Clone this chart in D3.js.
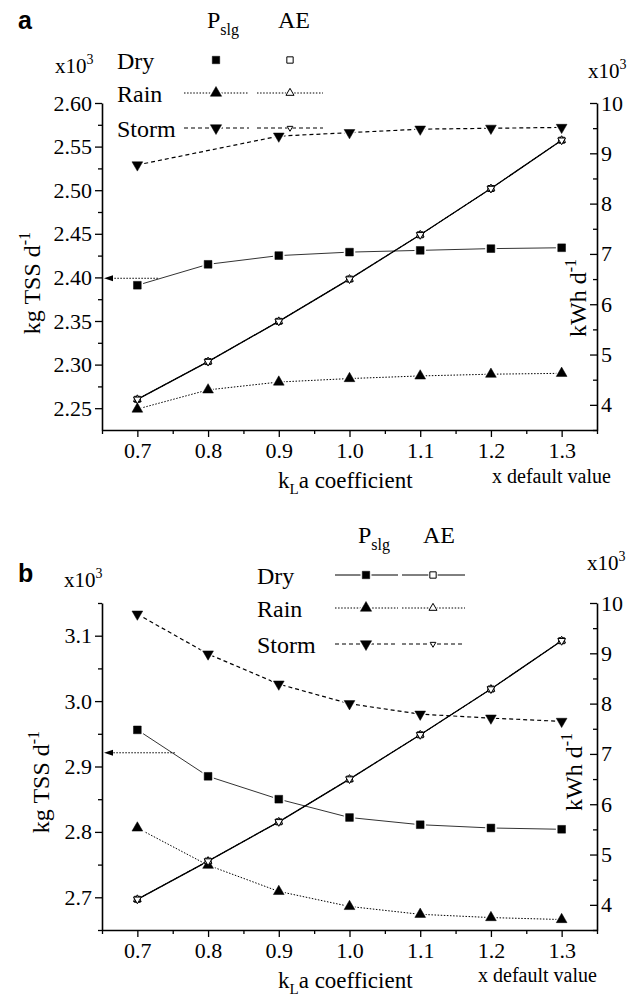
<!DOCTYPE html>
<html>
<head>
<meta charset="utf-8">
<script src="https://cdn.jsdelivr.net/npm/d3@7"></script>
<style>
  body { margin: 0; background: #fff; }
  svg { display: block; }
  text { font-family: "Liberation Serif", "Times New Roman", serif; fill: #000; }
</style>
</head>
<body>
<div id="chart"></div>
<script>
// kLa multiplier (x default value)
const kla = [0.7, 0.8, 0.9, 1.0, 1.1, 1.2, 1.3];

// panel a, sludge production (x10^3 kg TSS/d)
const pslgDryA = [2.391, 2.415, 2.425, 2.429, 2.431, 2.433, 2.434];
const pslgRainA = [2.249, 2.271, 2.280, 2.284, 2.287, 2.289, 2.290];
const pslgStormA = [2.529, null, 2.562, 2.566, 2.570, 2.571, 2.572];
// panel a, aeration energy (x10^3 kWh/d)
const aeDryA = [4.11, 4.86, 5.66, 6.50, 7.38, 8.30, 9.26];
const aeRainA = [4.11, 4.86, 5.66, 6.50, 7.38, 8.30, 9.26];
const aeStormA = [4.11, 4.86, 5.66, 6.50, 7.38, 8.30, 9.26];

// panel b
const pslgDryB = [2.956, 2.885, 2.850, 2.822, 2.811, 2.806, 2.804];
const pslgRainB = [2.806, 2.749, 2.709, 2.686, 2.674, 2.669, 2.666];
const pslgStormB = [3.133, 3.072, 3.026, 2.996, 2.980, 2.974, 2.969];
const aeDryB = [4.11, 4.87, 5.65, 6.50, 7.38, 8.29, 9.25];
const aeRainB = [4.11, 4.87, 5.65, 6.50, 7.38, 8.29, 9.25];
const aeStormB = [4.11, 4.87, 5.65, 6.50, 7.38, 8.29, 9.25];

// tick values
const xTicks = [0.7, 0.8, 0.9, 1.0, 1.1, 1.2, 1.3];
const xMinor = [0.65, 0.75, 0.85, 0.95, 1.05, 1.15, 1.25, 1.35];
const leftTicksA = [2.25, 2.30, 2.35, 2.40, 2.45, 2.50, 2.55, 2.60];
const leftMinorA = [2.275, 2.325, 2.375, 2.425, 2.475, 2.525, 2.575];
const leftTicksB = [2.7, 2.8, 2.9, 3.0, 3.1];
const leftMinorB = [2.65, 2.75, 2.85, 2.95, 3.05, 3.15];
const rightTicks = [4, 5, 6, 7, 8, 9, 10];
const rightMinor = [3.5, 4.5, 5.5, 6.5, 7.5, 8.5, 9.5];

// legend rows
const conditions = ["Dry", "Rain", "Storm"];

const width = 636;
const height = 999;

const svg = d3.select("#chart")
    .append("svg")
    .attr("width", width)
    .attr("height", height);

svg.append("rect").attr("width", width).attr("height", height).attr("fill", "#fff");

const styles = {
    Dry: { shape: "square", dash: null, w: 1, lineColor: "#333" },
    Rain: { shape: "up", dash: "1.5,1.6", w: 1, lineColor: "#000" },
    Storm: { shape: "down", dash: "4,3", w: 1.2, lineColor: "#000" }
};

function markerPath(shape, size) {
    const type = shape === "square" ? d3.symbolSquare : d3.symbolTriangle;
    return d3.symbol().type(type).size(size)();
}

function drawMarker(g, shape, filled, size, cx, cy, halo) {
    const rot = shape === "down" ? " rotate(180)" : "";
    const path = markerPath(shape, size);
    if (halo) {
        g.append("path")
            .attr("d", markerPath(shape, size * 2.2))
            .attr("transform", `translate(${cx},${cy})${rot}`)
            .attr("fill", "#fff");
    }
    g.append("path")
        .attr("d", path)
        .attr("transform", `translate(${cx},${cy})${rot}`)
        .attr("fill", filled ? "#000" : "#fff")
        .attr("stroke", "#000")
        .attr("stroke-width", filled ? 0.5 : 1);
}

function styleAxis(sel, fontSize) {
    sel.attr("font-size", null).attr("font-family", null);
    sel.selectAll("text")
        .style("font-family", "'Liberation Serif', 'Times New Roman', serif")
        .style("font-size", fontSize + "px");
    sel.selectAll("line").attr("stroke", "#000").attr("stroke-width", 1.3);
    sel.select(".domain").attr("stroke", "#000").attr("stroke-width", 1.6);
}

function drawPanel(p) {
    const g = svg.append("g").attr("transform", `translate(0,${p.dy})`);

    const x = d3.scaleLinear().domain([0.65, 1.35]).range([102, 597]);
    const yL = d3.scaleLinear().domain(p.leftDomain).range([430, 103]);
    const yR = d3.scaleLinear().domain([3.5, 10]).range([430, 103]);

    // axes
    g.append("g").attr("transform", "translate(0,430)")
        .call(d3.axisBottom(x).tickValues(xMinor).tickSize(4).tickFormat(""))
        .call(s => s.select(".domain").remove())
        .call(s => styleAxis(s, 22));
    g.append("g").attr("transform", "translate(0,430)")
        .call(d3.axisBottom(x).tickValues(xTicks).tickSize(7).tickSizeOuter(0).tickPadding(5).tickFormat(d3.format(".1f")))
        .call(s => styleAxis(s, 22));

    g.append("g").attr("transform", "translate(102,0)")
        .call(d3.axisLeft(yL).tickValues(p.leftMinor).tickSize(4).tickFormat(""))
        .call(s => s.select(".domain").remove())
        .call(s => styleAxis(s, 22));
    g.append("g").attr("transform", "translate(102,0)")
        .call(d3.axisLeft(yL).tickValues(p.leftTicks).tickSize(7).tickSizeOuter(0).tickPadding(3).tickFormat(d3.format(p.leftFormat)))
        .call(s => styleAxis(s, 22));

    g.append("g").attr("transform", "translate(597,0)")
        .call(d3.axisRight(yR).tickValues(rightMinor).tickSize(-4).tickFormat(""))
        .call(s => s.select(".domain").remove())
        .call(s => styleAxis(s, 22));
    g.append("g").attr("transform", "translate(597,0)")
        .call(d3.axisRight(yR).tickValues(rightTicks).tickSize(-7).tickSizeOuter(0).tickPadding(4).tickFormat(d3.format("d")))
        .call(s => styleAxis(s, 22));

    // series lines
    const series = [];
    conditions.forEach((c, i) => {
        series.push({ cond: c, vals: p.pslg[i], y: yL, filled: true });
    });
    conditions.forEach((c, i) => {
        series.push({ cond: c, vals: p.ae[i], y: yR, filled: false });
    });

    series.forEach(s => {
        const st = styles[s.cond];
        const pts = kla.map((k, i) => ({ k: k, v: s.vals[i] })).filter(d => d.v != null);
        const line = d3.line().x(d => x(d.k)).y(d => s.y(d.v));
        g.append("path")
            .datum(pts)
            .attr("d", line)
            .attr("fill", "none")
            .attr("stroke", s.filled ? st.lineColor : "#000")
            .attr("stroke-width", s.filled ? st.w : (s.cond === "Dry" ? 1.3 : 1))
            .attr("stroke-dasharray", st.dash);
        s.pts = pts;
    });

    // markers (pslg get a white halo so the line stops short of them)
    series.forEach(s => {
        const st = styles[s.cond];
        const size = s.filled ? (st.shape === "square" ? 60 : 50) : (st.shape === "square" ? 36 : 26);
        s.pts.forEach(d => {
            drawMarker(g, st.shape, s.filled, size, x(d.k), s.y(d.v), s.filled);
        });
    });

    // annotation arrow pointing at the left axis
    const ax0 = x(p.arrow.from), ax1 = x(0.65), ay = yL(p.arrow.y);
    g.append("line")
        .attr("x1", ax0).attr("x2", ax1 + 6)
        .attr("y1", ay).attr("y2", ay)
        .attr("stroke", "#000").attr("stroke-width", 1)
        .attr("stroke-dasharray", "1.5,1.5");
    g.append("path")
        .attr("d", d3.line()([[ax1 + 2, ay], [ax1 + 11, ay - 3], [ax1 + 11, ay + 3]]) + "Z")
        .attr("fill", "#000");

    // panel letter
    g.append("text")
        .attr("x", 18).attr("y", p.letterY)
        .style("font-family", "'Liberation Sans', Arial, sans-serif")
        .style("font-weight", "bold")
        .style("font-size", "25px")
        .text(p.letter);

    // x10^3 labels
    [p.expLeft, p.expRight].forEach(pos => {
        const t = g.append("text").attr("x", pos[0]).attr("y", pos[1]).style("font-size", "21px");
        t.append("tspan").text("x10");
        t.append("tspan").attr("dy", -9).style("font-size", "14px").text("3");
    });

    // axis titles
    const tl = g.append("text")
        .attr("transform", `translate(${p.leftTitle[0]},${p.leftTitle[1]}) rotate(-90)`)
        .attr("text-anchor", "middle")
        .style("font-size", "24px");
    tl.append("tspan").text("kg TSS d");
    tl.append("tspan").attr("dy", -10).style("font-size", "16px").text("-1");

    const tr = g.append("text")
        .attr("transform", `translate(${p.rightTitle[0]},${p.rightTitle[1]}) rotate(-90)`)
        .attr("text-anchor", "middle")
        .style("font-size", "24px");
    tr.append("tspan").text("kWh d");
    tr.append("tspan").attr("dy", -10).style("font-size", "16px").text("-1");

    const tx = g.append("text")
        .attr("x", 278).attr("y", 488)
        .style("font-size", "23px");
    tx.append("tspan").text("k");
    tx.append("tspan").attr("dy", 6).style("font-size", "15px").text("L");
    tx.append("tspan").attr("dy", -6).text("a coefficient");

    g.append("text")
        .attr("x", p.defaultX).attr("y", p.defaultY)
        .style("font-size", "20px")
        .text("x default value");

    // legend
    const lg = p.legend;
    const hd = g.append("text").attr("x", lg.pX).attr("y", lg.headY).style("font-size", "24px");
    hd.append("tspan").text("P");
    hd.append("tspan").attr("dy", 7).style("font-size", "16px").text("slg");
    g.append("text").attr("x", lg.aeX).attr("y", lg.headY).style("font-size", "24px").text("AE");

    conditions.forEach((c, i) => {
        const st = styles[c];
        const rowY = lg.rowY[i];
        g.append("text").attr("x", lg.textX).attr("y", rowY + 9).style("font-size", "24px").text(c);
        if (lg.lines[i]) {
            [lg.pslgLine, lg.aeLine].forEach(seg => {
                g.append("line")
                    .attr("x1", seg[0]).attr("x2", seg[1])
                    .attr("y1", rowY).attr("y2", rowY)
                    .attr("stroke", "#000").attr("stroke-width", st.w)
                    .attr("stroke-dasharray", st.dash);
            });
        }
        const bigSize = 55;
        const smallSize = st.shape === "square" ? 40 : (c === "Rain" ? 28 : 14);
        drawMarker(g, st.shape, true, bigSize, lg.pslgMark, rowY, lg.lines[i]);
        drawMarker(g, st.shape, false, smallSize, lg.aeMark, rowY, lg.lines[i]);
    });
}

drawPanel({
    dy: 0,
    letter: "a",
    letterY: 29,
    leftDomain: [2.225, 2.60],
    leftTicks: leftTicksA,
    leftMinor: leftMinorA,
    leftFormat: ".2f",
    pslg: [pslgDryA, pslgRainA, pslgStormA],
    ae: [aeDryA, aeRainA, aeStormA],
    arrow: { y: 2.399, from: 0.729 },
    expLeft: [55, 73],
    expRight: [588, 78],
    leftTitle: [40, 283],
    rightTitle: [586, 298],
    defaultX: 492,
    defaultY: 483,
    legend: {
        pX: 207, aeX: 278, headY: 28, textX: 117,
        rowY: [60, 93, 128],
        lines: [false, true, true],
        pslgLine: [184, 249], aeLine: [257, 323],
        pslgMark: 216, aeMark: 290
    }
});

drawPanel({
    dy: 500,
    letter: "b",
    letterY: 82,
    leftDomain: [2.65, 3.15],
    leftTicks: leftTicksB,
    leftMinor: leftMinorB,
    leftFormat: ".1f",
    pslg: [pslgDryB, pslgRainB, pslgStormB],
    ae: [aeDryB, aeRainB, aeStormB],
    arrow: { y: 2.921, from: 0.753 },
    expLeft: [64, 87],
    expRight: [587, 70],
    leftTitle: [49, 282],
    rightTitle: [582, 272],
    defaultX: 478,
    defaultY: 482,
    legend: {
        pX: 358, aeX: 423, headY: 43, textX: 257,
        rowY: [75, 108, 144],
        lines: [true, true, true],
        pslgLine: [335, 398], aeLine: [402, 465],
        pslgMark: 366, aeMark: 433
    }
});
</script>
</body>
</html>
